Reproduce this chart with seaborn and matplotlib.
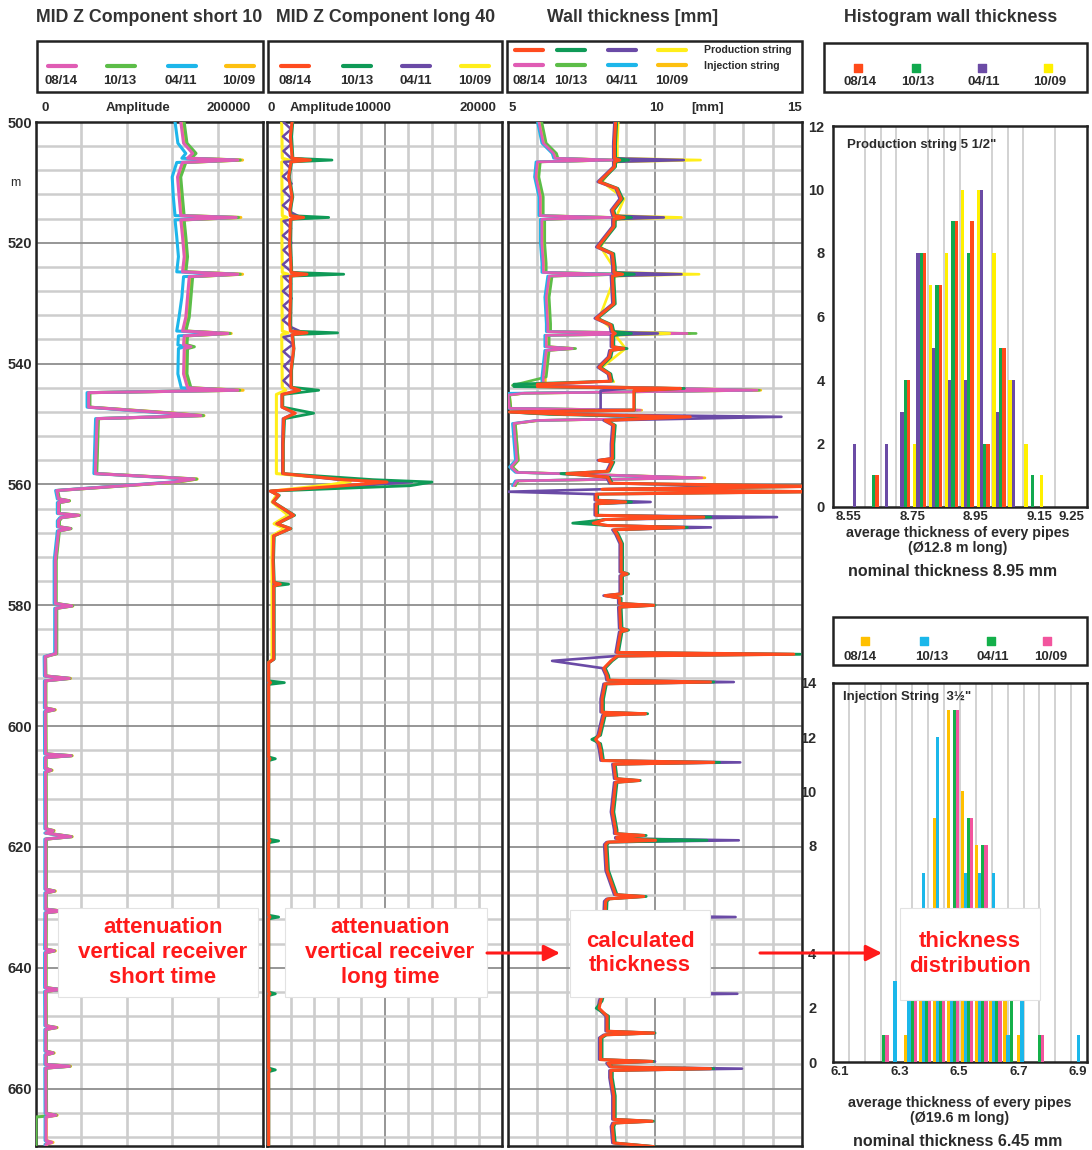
import numpy as np
import pandas as pd
import matplotlib
matplotlib.use("Agg")
import matplotlib.pyplot as plt
import seaborn as sns
from matplotlib.patches import Rectangle

sns.set_style("white")
plt.rcParams["font.family"] = ["Liberation Sans", "DejaVu Sans"]

# ------------------------------------------------------------------ DATA
dates = ["08/14", "10/13", "04/11", "10/09"]

# Track 1 : MID Z Component short 10 (amplitude, thousands)
t1_depth = [500.0, 503.5, 505.2, 506.0, 506.3, 506.7, 509.1, 512.4, 515.5, 515.8,
            516.2, 519.0, 522.3, 524.8, 525.2, 525.6, 529.0, 532.3, 534.6, 535.0,
            535.4, 536.9, 537.2, 537.5, 541.7, 544.0, 544.4, 544.8, 547.2, 548.0,
            548.6, 549.1, 558.2, 559.1, 559.6,
            561.0, 562.4, 562.7, 563.0, 564.8, 565.1, 565.5, 566.0, 567.0, 567.3,
            567.7, 572.6, 579.7, 580.1, 580.5, 588.0,
            588.5, 591.7, 592.1, 592.5, 597.0, 597.3, 597.6, 604.6, 604.9, 605.2,
            607.0, 607.3, 607.6, 617.0, 617.3, 617.7, 618.3, 618.7, 627.0, 627.3,
            627.6, 630.3, 630.6, 630.9, 636.9, 637.2, 637.5, 643.3, 643.6, 643.9,
            649.6, 649.9, 650.2, 653.8, 654.1, 654.4, 656.0, 656.3, 656.6, 664.1,
            664.4, 664.7, 668.6, 668.9, 669.2, 670.0]
t1_0814 = [127.6, 130.0, 138.0, 133.5, 177.8, 129.0, 124.7, 126.1, 127.6, 176.4,
           127.6, 129.1, 130.6, 129.1, 177.8, 135.0, 133.5, 132.0, 129.1, 169.0,
           130.6, 130.0, 136.5, 130.6, 130.0, 133.5, 177.8, 46.4, 46.4, 104.0,
           145.3, 53.8, 52.3, 139.4, 121.7,
           18.3, 19.8, 28.7, 19.8, 19.8, 37.5, 22.0, 19.8, 19.8, 30.1,
           19.8, 17.0, 17.0, 31.6, 17.5, 17.5,
           8.0, 8.2, 29.4, 8.2, 8.2, 16.0, 8.2, 8.4, 30.9, 8.4,
           8.4, 13.2, 8.4, 8.6, 15.0, 8.6, 30.9, 8.6, 8.6, 16.0,
           8.6, 8.6, 22.0, 8.6, 8.4, 16.0, 8.4, 8.4, 21.5, 8.4,
           8.6, 17.6, 8.6, 8.6, 15.0, 8.6, 8.6, 29.4, 8.6, 8.8,
           17.6, 8.8, 8.8, 14.0, 8.8, 8.8]
t1_1013 = [130.5, 133.0, 141.0, 136.5, 180.0, 132.0, 127.5, 129.0, 130.5, 178.5,
           130.5, 132.0, 133.5, 132.0, 180.0, 138.0, 136.5, 135.0, 132.0, 171.0,
           133.5, 133.0, 139.5, 133.5, 133.0, 136.5, 179.5, 47.5, 47.5, 106.0,
           147.5, 55.0, 53.5, 141.5, 124.0,
           19.1, 20.6, 29.5, 20.6, 20.6, 38.3, 22.8, 20.6, 20.6, 30.9,
           20.6, 17.8, 17.8, 32.4, 18.3, 18.3,
           8.5, 8.7, 30.0, 8.7, 8.7, 16.5, 8.7, 8.9, 31.5, 8.9,
           8.9, 13.7, 8.9, 9.1, 15.5, 9.1, 31.5, 9.1, 9.1, 16.5,
           9.1, 9.1, 22.5, 9.1, 8.9, 16.5, 8.9, 8.9, 22.0, 8.9,
           9.1, 18.1, 9.1, 9.1, 15.5, 9.1, 9.1, 30.0, 9.1, 9.3,
           18.1, 0.0, 0.0, 0.0, 0.0, 0.0]
t1_0411 = [122.5, 125.0, 132.0, 128.5, 175.0, 124.0, 120.0, 121.0, 122.5, 174.0,
           122.5, 124.0, 125.5, 124.0, 175.0, 130.0, 128.5, 126.0, 124.0, 166.0,
           125.5, 125.0, 131.0, 125.5, 125.0, 128.0, 175.0, 45.0, 45.0, 101.0,
           143.0, 52.5, 51.0, 137.0, 119.0,
           17.3, 18.8, 27.5, 18.8, 18.8, 36.0, 21.0, 18.8, 18.8, 29.0,
           18.8, 16.0, 16.0, 30.5, 16.5, 16.5,
           7.2, 7.4, 28.5, 7.4, 7.4, 15.0, 7.4, 7.6, 30.0, 7.6,
           7.6, 12.5, 7.6, 7.8, 14.2, 7.8, 30.0, 7.8, 7.8, 15.2,
           7.8, 7.8, 21.0, 7.8, 7.6, 15.2, 7.6, 7.6, 20.5, 7.6,
           7.8, 16.8, 7.8, 7.8, 14.2, 7.8, 7.8, 28.5, 7.8, 8.0,
           16.8, 8.0, 8.0, 13.2, 8.0, 8.0]
t1_1009 = [129.0, 131.5, 139.5, 135.0, 182.0, 130.5, 126.0, 127.5, 129.0, 180.5,
           129.0, 130.5, 132.0, 130.5, 182.0, 136.5, 135.0, 133.5, 130.5, 172.0,
           132.0, 131.5, 138.0, 132.0, 131.5, 135.0, 182.5, 47.0, 47.0, 108.0,
           148.0, 54.5, 53.0, 142.0, 125.0,
           18.6, 20.1, 29.5, 20.1, 20.1, 38.0, 22.3, 20.1, 20.1, 30.6,
           20.1, 17.3, 17.3, 32.4, 17.8, 17.8,
           8.3, 8.5, 30.4, 8.5, 8.5, 17.0, 8.5, 8.7, 31.9, 8.7,
           8.7, 14.2, 8.7, 8.9, 16.0, 8.9, 31.9, 8.9, 8.9, 17.0,
           8.9, 8.9, 23.0, 8.9, 8.7, 17.0, 8.7, 8.7, 22.5, 8.7,
           8.9, 18.6, 8.9, 8.9, 16.0, 8.9, 8.9, 30.4, 8.9, 9.1,
           18.6, 9.1, 9.1, 15.0, 9.1, 9.1]

# Track 2 : MID Z Component long 40 (amplitude)
t2_depth = [500.0, 502.4, 505.7, 506.0, 506.3, 506.6, 509.1, 512.4, 514.6, 515.5,
            515.8, 516.1, 520.1, 524.0, 524.9, 525.2, 525.5, 529.5, 533.4, 534.6,
            534.9, 535.2, 537.5, 541.1, 543.9, 544.4, 545.1, 547.2, 548.2, 549.1,
            553.3, 558.2, 559.2, 559.6, 560.2, 561.1, 561.8, 562.9, 565.1, 566.5,
            567.3, 568.5, 572.6, 576.2, 576.5, 576.8, 588.9, 589.5, 592.5, 592.8,
            593.1, 605.1, 605.4, 605.7, 618.7, 619.0, 619.3, 631.3, 631.6, 631.9,
            644.0, 644.3, 644.6, 656.6, 656.9, 657.2, 670.0]
t2_0814 = [2130, 1990, 2130, 2100, 3690, 2040, 1840, 2130, 1930, 1990,
           3120, 1990, 1930, 2040, 2040, 3400, 1990, 1990, 1930, 1990,
           3400, 2130, 2270, 2040, 2040, 2780, 1280, 1280, 2410, 1420,
           1360, 1360, 6530, 10210, 6530, 280, 990, 510, 2270, 850,
           1990, 570, 510, 570, 1130, 570, 570, 140, 140, 300,
           140, 140, 250, 140, 140, 250, 140, 140, 250, 140,
           140, 250, 140, 140, 250, 140, 140]
t2_1013 = [2200, 2100, 2200, 2150, 5530, 2100, 1900, 2200, 2000, 2050,
           5250, 2050, 2000, 2100, 2100, 6530, 2050, 2050, 2000, 2050,
           6010, 2200, 2300, 2100, 2100, 4400, 1350, 1350, 3970, 1500,
           1400, 1400, 9000, 14040, 12200, 300, 1050, 550, 2350, 900,
           2050, 620, 560, 620, 1840, 620, 620, 160, 160, 1480,
           160, 160, 710, 160, 160, 990, 160, 160, 990, 160,
           160, 710, 160, 160, 710, 160, 160]
t2_0411_depth = [500.0, 501.2, 502.4, 503.6, 504.8, 506.0, 506.3, 506.6, 507.8, 509.0,
                 510.2, 511.4, 512.6, 513.8, 515.0, 515.8, 516.4, 517.6, 518.8, 520.0,
                 521.2, 522.4, 523.6, 524.8, 525.2, 525.6, 526.8, 528.0, 529.2, 530.4,
                 531.6, 532.8, 534.0, 534.9, 535.6, 536.8, 538.0, 539.2, 540.4, 541.6,
                 542.8, 544.0, 544.4, 545.1, 547.2, 548.2, 549.1, 553.3, 558.2, 559.2,
                 559.6, 560.2, 561.1, 561.8, 562.9, 565.1, 566.5, 567.3, 568.5, 589.0,
                 589.5, 670.0]
t2_0411 = [1400, 2050, 1350, 2100, 1400, 2050, 4100, 1450, 2050, 1350,
           2100, 1400, 2050, 1350, 2100, 2900, 1400, 2050, 1350, 2100,
           1400, 2050, 1350, 2100, 3300, 1400, 2050, 1350, 2100, 1400,
           2050, 1350, 2100, 3100, 1400, 2200, 1400, 2100, 1450, 2050,
           1400, 2050, 2700, 1250, 1250, 2300, 1350, 1300, 1300, 6000,
           12340, 8000, 260, 950, 480, 2150, 820, 1900, 560, 560,
           130, 130]
t2_1009_depth = [500.0, 506.0, 506.3, 506.6, 515.5, 515.8, 516.1, 524.9, 525.2, 525.5,
                 534.6, 534.9, 535.2, 543.9, 544.4, 545.1, 558.2, 559.0, 559.5, 560.0,
                 561.1, 561.8, 562.9, 565.1, 566.5, 567.3, 568.5, 589.0, 589.5, 670.0]
t2_1009 = [1250, 1300, 1900, 1250, 1300, 1700, 1250, 1300, 1800, 1250,
           1300, 1800, 1250, 1300, 1600, 800, 800, 5500, 7100, 5500,
           420, 800, 430, 1800, 600, 1500, 430, 430, 120, 120]

# Track 3 : wall thickness [mm], production string
prod_depth = [500.0, 503.5, 506.0, 506.3, 506.6, 507.4, 509.9, 511.0, 512.7, 514.6,
              515.5, 515.8, 516.1, 517.3, 520.7, 521.8, 524.0, 524.9, 525.2, 525.5,
              530.1, 532.5, 533.6, 534.7, 535.0, 535.3, 537.2, 537.5, 537.8, 538.9,
              540.6, 541.7, 542.9, 543.4, 543.8, 544.1, 544.5, 547.7, 548.0, 548.4,
              548.8, 549.4, 550.2, 553.3, 555.7, 556.0, 556.3, 557.8, 558.2, 558.8,
              559.8, 560.3, 560.8, 561.2, 561.6, 562.6, 562.9, 563.2, 565.1, 565.4,
              565.8, 566.4, 566.8, 567.1, 567.5, 568.2, 569.8, 574.5, 574.8, 575.1,
              578.1, 578.4, 578.8, 579.7, 580.0, 580.3, 583.8, 584.1, 584.4, 587.8,
              588.1, 588.4, 589.2, 590.4, 591.6, 592.4, 592.7, 593.0, 595.5, 597.7,
              597.95, 598.2, 601.5, 602.2, 602.9, 604.0, 605.7, 606.0, 606.3, 608.7,
              609.0, 609.3, 614.2, 617.2, 617.8, 618.1, 618.4, 618.6, 618.9, 619.2,
              619.6, 623.9, 627.9, 628.2, 628.6, 629.0, 631.3, 631.6, 631.9, 644.0,
              644.3, 644.6, 645.5, 646.7, 648.0, 650.5, 650.8, 651.1, 651.6, 654.0,
              655.2, 655.5, 655.8, 656.4, 656.7, 657.0, 658.2, 661.2, 664.2, 665.1,
              665.4, 665.7, 666.3, 669.0, 669.6, 670.0]
prod_0814 = [8.66, 8.62, 8.62, 8.80, 8.62, 8.62, 8.10, 8.70, 8.85, 8.55,
             8.60, 8.95, 8.60, 8.60, 8.05, 8.55, 8.60, 8.60, 8.90, 8.55,
             8.60, 8.00, 8.50, 8.55, 8.65, 8.55, 8.55, 8.94, 8.50, 8.45,
             8.10, 8.45, 8.50, 6.00, 6.00, 10.87, 9.28, 9.28, 5.05, 7.00,
             11.20, 8.30, 8.60, 8.55, 8.55, 8.10, 8.55, 8.40, 7.00, 8.40,
             8.50, 15.60, 8.20, 15.60, 8.00, 8.00, 9.00, 8.00, 8.00, 11.66,
             8.30, 7.90, 8.40, 10.98, 8.60, 8.70, 8.85, 8.85, 9.05, 8.85,
             8.85, 8.30, 8.80, 8.80, 9.96, 8.80, 8.83, 9.05, 8.83, 8.71,
             14.72, 8.71, 8.50, 8.26, 8.37, 8.40, 11.89, 8.30, 8.20, 8.20,
             9.68, 8.26, 8.10, 7.98, 8.10, 8.15, 8.20, 12.00, 8.60, 8.66,
             9.45, 8.66, 8.55, 8.66, 8.66, 9.62, 8.70, 8.70, 10.02, 8.40,
             8.32, 8.37, 8.66, 9.62, 8.40, 8.32, 8.30, 9.80, 8.30, 8.20,
             9.90, 8.20, 8.15, 8.10, 8.37, 8.37, 9.96, 8.30, 8.15, 8.15,
             8.15, 9.90, 8.40, 8.50, 11.89, 8.50, 8.50, 8.60, 8.60, 8.60,
             9.90, 8.60, 8.55, 8.60, 9.96, 9.96]
prod_1013 = [8.70, 8.66, 8.66, 9.10, 8.66, 8.66, 8.15, 8.74, 8.90, 8.60,
             8.65, 9.20, 8.65, 8.65, 8.10, 8.60, 8.65, 8.65, 9.30, 8.60,
             8.65, 8.05, 8.55, 8.60, 9.20, 8.60, 8.60, 9.05, 8.55, 8.50,
             8.15, 8.50, 8.55, 5.20, 5.20, 11.00, 9.30, 9.30, 5.05, 6.40,
             10.40, 8.35, 8.65, 8.60, 8.60, 8.15, 8.60, 8.45, 6.80, 8.45,
             8.55, 15.60, 8.25, 15.60, 8.05, 8.05, 9.20, 8.05, 8.05, 11.90,
             8.35, 7.20, 8.45, 11.10, 8.65, 8.75, 8.90, 8.90, 9.10, 8.90,
             8.90, 8.35, 8.85, 8.85, 10.00, 8.85, 8.88, 9.10, 8.88, 8.76,
             14.94, 8.76, 8.55, 8.31, 8.42, 8.45, 12.00, 8.35, 8.25, 8.25,
             9.75, 8.31, 8.15, 7.85, 8.15, 8.20, 8.25, 12.20, 8.65, 8.71,
             9.50, 8.71, 8.60, 8.71, 8.71, 9.70, 8.75, 8.75, 11.77, 8.45,
             8.37, 8.42, 8.71, 9.70, 8.45, 8.37, 8.35, 10.20, 8.35, 8.25,
             10.30, 8.25, 8.20, 8.00, 8.42, 8.42, 10.00, 8.35, 8.20, 8.20,
             8.20, 9.95, 8.45, 8.55, 12.00, 8.55, 8.55, 8.65, 8.65, 8.65,
             9.95, 8.65, 8.60, 8.65, 10.00, 10.00]
prod_0411 = [8.62, 8.58, 8.58, 10.98, 8.58, 8.58, 8.05, 8.66, 8.80, 8.50,
             8.55, 10.30, 8.55, 8.55, 8.00, 8.50, 8.55, 8.55, 10.90, 8.50,
             8.55, 7.95, 8.45, 8.50, 10.10, 8.50, 8.50, 8.90, 8.45, 8.40,
             8.05, 8.40, 8.45, 6.20, 6.20, 9.00, 8.15, 8.15, 5.10, 7.20,
             14.30, 8.25, 8.55, 8.50, 8.50, 8.05, 8.50, 8.35, 7.20, 8.35,
             8.45, 13.24, 8.15, 5.00, 7.95, 7.95, 9.85, 7.95, 7.95, 14.15,
             8.25, 7.80, 8.35, 11.90, 8.55, 8.65, 8.80, 8.80, 9.00, 8.80,
             8.80, 8.25, 8.75, 8.75, 9.96, 8.75, 8.78, 9.00, 8.78, 8.66,
             14.60, 8.66, 6.50, 8.21, 8.32, 8.35, 12.68, 8.25, 8.15, 8.15,
             9.70, 8.21, 8.05, 7.95, 8.05, 8.10, 8.15, 12.90, 8.55, 8.61,
             9.40, 8.61, 8.50, 8.61, 8.61, 9.60, 8.65, 8.65, 12.85, 8.35,
             8.27, 8.32, 8.61, 9.60, 8.35, 8.27, 8.25, 12.74, 8.25, 8.15,
             12.80, 8.15, 8.10, 8.05, 8.32, 8.32, 10.00, 8.25, 8.10, 8.10,
             8.10, 10.00, 8.35, 8.45, 12.96, 8.45, 8.45, 8.55, 8.55, 8.55,
             9.90, 8.55, 8.50, 8.55, 9.96, 9.96]
prod_1009_depth = [500.0, 503.5, 506.0, 506.3, 506.6, 509.9, 512.7, 515.5, 515.8, 516.1,
                   520.7, 524.9, 525.2, 525.5, 532.5, 534.7, 535.0, 535.3, 537.5, 540.6,
                   543.0]
prod_1009 = [8.75, 8.72, 8.72, 11.55, 8.72, 8.20, 8.95, 8.70, 10.90, 8.70,
             8.15, 8.70, 11.50, 8.65, 8.10, 8.65, 10.50, 8.65, 9.00, 8.20,
             8.60]

# Track 3 : wall thickness [mm], injection string
inj_depth = [500.0, 503.5, 505.2, 506.0, 506.3, 506.6, 509.1, 512.4, 515.5, 515.8,
             516.1, 520.1, 523.4, 524.9, 525.2, 525.5, 529.0, 533.4, 534.7, 535.0,
             535.3, 537.2, 537.5, 537.8, 542.2, 543.6, 544.4, 544.9, 545.2, 547.4,
             547.7, 548.1, 549.0, 549.4, 549.9, 556.0, 557.1, 558.0, 558.9, 559.4, 560.2]
inj_0814 = [6.05, 6.20, 6.55, 6.60, 8.55, 6.00, 5.95, 6.10, 6.10, 8.50,
            6.15, 6.15, 6.20, 6.20, 8.50, 6.40, 6.30, 6.35, 6.35, 11.09,
            6.30, 6.30, 7.19, 6.30, 6.20, 6.20, 13.47, 5.50, 5.00, 5.05,
            9.50, 5.40, 10.80, 6.00, 5.20, 5.30, 5.10, 5.30, 11.60, 5.30, 5.20]
inj_1013 = [6.15, 6.30, 6.65, 6.70, 8.60, 6.10, 6.05, 6.20, 6.20, 8.55,
            6.25, 6.25, 6.30, 6.30, 9.05, 6.50, 6.40, 6.45, 6.45, 11.40,
            6.40, 6.40, 7.30, 6.40, 6.30, 5.15, 13.55, 5.55, 5.05, 5.10,
            9.40, 5.45, 10.60, 6.05, 5.25, 5.35, 5.15, 5.35, 11.50, 5.35, 5.25]
inj_0411 = [6.00, 6.15, 6.50, 6.55, 8.50, 5.95, 5.90, 6.05, 6.05, 8.45,
            6.10, 6.10, 6.15, 6.15, 8.90, 6.35, 6.25, 6.30, 6.30, 10.90,
            6.25, 6.25, 7.10, 6.25, 6.15, 6.15, 13.30, 5.02, 5.00, 5.00,
            9.30, 5.35, 10.50, 5.95, 5.15, 5.25, 5.05, 5.25, 11.40, 5.25, 5.15]
inj_1009 = [6.12, 6.27, 6.62, 6.67, 8.70, 6.07, 6.02, 6.17, 6.17, 8.65,
            6.22, 6.22, 6.27, 6.27, 9.00, 6.47, 6.37, 6.42, 6.42, 11.20,
            6.37, 6.37, 7.25, 6.37, 6.27, 6.27, 13.60, 5.55, 5.05, 5.10,
            9.55, 5.45, 10.90, 6.05, 5.25, 5.35, 5.15, 5.35, 11.70, 5.35, 5.25]

# Histogram: production string 5 1/2" (bins of 0.05 mm, left edges)
prod_bins = [8.50, 8.55, 8.60, 8.65, 8.70, 8.75, 8.80, 8.85, 8.90, 8.95,
             9.00, 9.05, 9.10, 9.15, 9.20, 9.25]
hist_prod_0814 = [0, 0, 1, 0, 4, 8, 7, 9, 9, 2, 5, 0, 0, 0, 0, 0]
hist_prod_1013 = [0, 0, 1, 0, 4, 8, 7, 9, 8, 2, 5, 0, 1, 0, 0, 0]
hist_prod_0411 = [0, 2, 0, 2, 3, 8, 5, 4, 4, 10, 3, 4, 0, 0, 0, 0]
hist_prod_1009 = [0, 0, 0, 0, 0, 2, 7, 8, 10, 10, 8, 4, 2, 1, 0, 0]
prod_ticks = [8.55, 8.75, 8.95, 9.15, 9.25]

# Histogram: injection string 3 1/2"
inj_bins = [6.221, 6.269, 6.316, 6.364, 6.411, 6.459, 6.506, 6.554, 6.601, 6.649,
            6.696, 6.744, 6.791, 6.839, 6.886]
hist_inj_0814 = [0, 0, 1, 5, 9, 13, 10, 8, 5, 3, 1, 0, 0, 0, 0]
hist_inj_1013 = [0, 3, 4, 7, 12, 5, 7, 7, 7, 1, 3, 0, 0, 0, 1]
hist_inj_0411 = [1, 0, 3, 4, 5, 13, 9, 8, 4, 3, 0, 1, 0, 0, 0]
hist_inj_1009 = [1, 0, 3, 4, 5, 13, 9, 8, 4, 0, 0, 1, 0, 0, 0]
inj_ticks = [6.1, 6.3, 6.5, 6.7, 6.9]

# ------------------------------------------------------------------ STYLE
PINK, LGREEN, CYAN, GOLD = "#E05CB4", "#5CBD48", "#1DB6EA", "#FDC010"
RED, DGREEN, PURPLE, YELLOW = "#FF4B1F", "#0F9A57", "#6A4AA6", "#FFEE1A"
H1 = {"08/14": "#FF4A1A", "10/13": "#11A94E", "04/11": "#6B4BA5", "10/09": "#FFF000"}
H2 = {"08/14": "#FFC000", "10/13": "#1BB7EA", "04/11": "#14B04A", "10/09": "#F2559E"}
TXT = "#2b2b2b"
ANN = "#FF1A1A"

W, H = 1092, 1150
fig = plt.figure(figsize=(W / 100, H / 100), dpi=100)


def axes_px(x0, y0, x1, y1, **kw):
    return fig.add_axes([x0 / W, 1 - y1 / H, (x1 - x0) / W, (y1 - y0) / H], **kw)


def trace(ax, vals, depth, color, lw=2.0, z=3, scale=1.0):
    df = pd.DataFrame({"v": np.asarray(vals, float) * scale, "d": depth})
    sns.lineplot(data=df, x="v", y="d", ax=ax, color=color, linewidth=lw,
                 sort=False, estimator=None, orient="y", zorder=z, legend=False)


def style_track(ax, xlim, xmaj, xmin=None, dark_major=False):
    ax.set_xlim(*xlim)
    ax.set_ylim(669.5, 500)
    ax.set_yticks(list(range(500, 661, 20)))
    ax.set_yticks([d for d in range(504, 670, 4) if d % 20], minor=True)
    ax.set_xticks(xmaj)
    if xmin is not None:
        ax.set_xticks(xmin, minor=True)
    ax.grid(which="major", axis="y", color="#8e8e8e", lw=1.3)
    ax.grid(which="minor", axis="y", color="#cdcdcd", lw=1.8)
    ax.grid(which="major", axis="x", color="#8e8e8e" if dark_major else "#cdcdcd",
            lw=1.3 if dark_major else 1.9)
    if xmin is not None:
        ax.grid(which="minor", axis="x", color="#cdcdcd", lw=1.9)
    ax.set_axisbelow(True)
    ax.tick_params(which="both", length=0)
    ax.set_xticklabels([])
    ax.set_xlabel("")
    ax.set_ylabel("")
    for s in ax.spines.values():
        s.set_linewidth(1.8)
        s.set_color("#222222")


# ---- Track 1
ax1 = axes_px(36, 122, 263, 1146)
for vals, col in [(t1_1009, GOLD), (t1_1013, LGREEN), (t1_0411, CYAN), (t1_0814, PINK)]:
    trace(ax1, vals, t1_depth, col, lw=2.2, scale=1000)
style_track(ax1, (0, 200000), list(range(0, 200001, 40000)))
ax1.set_yticklabels([str(d) for d in range(500, 661, 20)], fontweight="bold",
                    fontsize=10.5, color=TXT)
ax1.tick_params(axis="y", pad=3)

# ---- Track 2
ax2 = axes_px(267, 122, 502, 1146)
trace(ax2, t2_1009, t2_1009_depth, YELLOW, lw=2.2)
trace(ax2, t2_0411, t2_0411_depth, PURPLE, lw=1.8)
trace(ax2, t2_1013, t2_depth, DGREEN, lw=2.0)
trace(ax2, t2_0814, t2_depth, RED, lw=2.2)
style_track(ax2, (0, 20000), [10000], list(range(0, 20001, 2000)), dark_major=True)
ax2.set_yticklabels([])

# ---- Track 3
ax3 = axes_px(508, 122, 802, 1146)
for vals, col in [(inj_1009, GOLD), (inj_1013, LGREEN), (inj_0411, CYAN), (inj_0814, PINK)]:
    trace(ax3, vals, inj_depth, col, lw=1.9, z=3)
trace(ax3, prod_1009, prod_1009_depth, YELLOW, lw=1.9, z=4)
trace(ax3, prod_0411, prod_depth, PURPLE, lw=1.9, z=4)
trace(ax3, prod_1013, prod_depth, DGREEN, lw=2.0, z=4)
trace(ax3, prod_0814, prod_depth, RED, lw=2.2, z=5)
style_track(ax3, (5, 15), [10], list(range(5, 16)), dark_major=True)
ax3.set_yticklabels([])

# ---- Histograms
OFF = [0.0, 0.0103, 0.0206, 0.0309]
BW = 0.0108


def style_hist(ax, xlim, ylim, gridx, ticks, ylabels_at, ypad):
    ax.set_xlim(*xlim)
    ax.set_ylim(*ylim)
    ax.set_xticks(gridx, minor=True)
    ax.set_xticks(ticks)
    ax.set_xticklabels([f"{t:g}" for t in ticks], fontweight="bold",
                       fontsize=9.5, color=TXT)
    ax.set_yticks(ylabels_at)
    ax.set_yticklabels([str(v) for v in ylabels_at], fontweight="bold",
                       fontsize=10.5, color=TXT)
    ax.grid(which="minor", axis="x", color="#d2d2d2", lw=1.4)
    ax.grid(which="major", axis="x", visible=False)
    ax.grid(which="both", axis="y", visible=False)
    ax.set_axisbelow(True)
    ax.tick_params(which="both", length=0)
    ax.tick_params(axis="x", pad=3)
    ax.tick_params(axis="y", pad=ypad)
    for s in ax.spines.values():
        s.set_linewidth(1.8)
        s.set_color("#222222")


hx1 = axes_px(833, 126, 1087, 507)
series1 = [(hist_prod_1009, H1["10/09"]), (hist_prod_0411, H1["04/11"]),
           (hist_prod_1013, H1["10/13"]), (hist_prod_0814, H1["08/14"])]
for i, (cnt, col) in enumerate(series1):
    hx1.bar(np.asarray(prod_bins) + 0.002 + OFF[i], cnt, width=BW, align="edge",
            color=col, linewidth=0, zorder=3)
style_hist(hx1, (8.50, 9.30), (0, 12), prod_bins[1:], prod_ticks,
           list(range(0, 13, 2)), 6)

hx2 = axes_px(833, 683, 1087, 1062)
series2 = [(hist_inj_0814, H2["08/14"]), (hist_inj_1013, H2["10/13"]),
           (hist_inj_0411, H2["04/11"]), (hist_inj_1009, H2["10/09"])]
for i, (cnt, col) in enumerate(series2):
    hx2.bar(np.asarray(inj_bins) + OFF[i], cnt, width=BW, align="edge",
            color=col, linewidth=0, zorder=3)
lo2, hi2 = 6.076, 6.930
style_hist(hx2, (lo2, hi2), (0, 14), list(np.linspace(lo2, hi2, 17)[1:-1]),
           inj_ticks, [0, 2, 4, 8, 10, 12, 14], 12)

# ------------------------------------------------------------------ OVERLAY
ov = fig.add_axes([0, 0, 1, 1], zorder=20)
ov.set_xlim(0, W)
ov.set_ylim(H, 0)
ov.axis("off")
ov.patch.set_alpha(0)


def T(x, y, s, size=10, weight="bold", ha="center", color=TXT, **kw):
    ov.text(x, y, s, fontsize=size, fontweight=weight, ha=ha, va="center",
            color=color, **kw)


def box(x0, y0, x1, y1, ec="#222222", lw=1.8):
    ov.add_patch(Rectangle((x0, y0), x1 - x0, y1 - y0, fill=False,
                           edgecolor=ec, lw=lw, zorder=1))


# titles
T(149, 18, "MID Z Component short 10", size=12.8, color="#333333")
T(386, 18, "MID Z Component long 40", size=12.8, color="#333333")
T(633, 18, "Wall thickness [mm]", size=12.8, color="#333333")
T(951, 18, "Histogram wall thickness", size=12.8, color="#333333")

# legend boxes for tracks
box(37, 41, 263, 92)
for cx, col, lab in zip([62, 121, 182, 240], [PINK, LGREEN, CYAN, GOLD], dates):
    ov.plot([cx - 14, cx + 14], [66, 66], color=col, lw=3, solid_capstyle="round")
    T(cx - 1, 81, lab, size=9.5)
box(268, 41, 502, 92)
for cx, col, lab in zip([295, 357, 416, 475], [RED, DGREEN, PURPLE, YELLOW], dates):
    ov.plot([cx - 14, cx + 14], [66, 66], color=col, lw=3, solid_capstyle="round")
    T(cx, 81, lab, size=9.5)
box(507, 41, 802, 92)
for cx, c1, c2, lab in zip([529, 571, 622, 672], [RED, DGREEN, PURPLE, YELLOW],
                           [PINK, LGREEN, CYAN, GOLD], dates):
    ov.plot([cx - 14, cx + 14], [50, 50], color=c1, lw=3, solid_capstyle="round")
    ov.plot([cx - 14, cx + 14], [65, 65], color=c2, lw=3, solid_capstyle="round")
    T(cx, 81, lab, size=9.5)
T(704, 50, "Production string", size=7.6, ha="left")
T(704, 66, "Injection string", size=7.6, ha="left")

# histogram legends
box(824, 43, 1087, 92)
for cx, lab in zip([858, 916, 982, 1048], dates):
    ov.scatter([cx], [68], marker="s", s=38, color=H1[lab], zorder=3)
    T(cx + 2, 82, lab, size=9.5)
box(833, 617, 1087, 665)
for cx, tx, lab in zip([865, 924, 991, 1047], [860, 932, 993, 1051], dates):
    ov.scatter([cx], [641], marker="s", s=38, color=H2[lab], zorder=3)
    T(tx, 657, lab, size=9.5)

# track header scales
T(45, 108, "0", size=9.5)
T(138, 108, "Amplitude", size=9.5)
T(229, 108, "200000", size=9.5)
T(271, 108, "0", size=9.5)
T(322, 108, "Amplitude", size=9.5)
T(373, 108, "10000", size=9.5)
T(478, 108, "20000", size=9.5)
T(512, 108, "5", size=9.5)
T(656, 108, "10", size=9.5)
T(708, 108, "[mm]", size=9.5)
T(794, 108, "15", size=9.5)
T(15, 183, "m", size=9, weight="normal")

# histogram captions
T(847, 145, "Production string 5 1/2\"", size=9.5, ha="left")
T(843, 697, "Injection String  3\u00bd\"", size=9.5, ha="left")
T(958, 533, "average thickness of every pipes", size=10.3)
T(958, 548, "(\u00d812.8 m long)", size=10.3)
T(953, 571, "nominal thickness 8.95 mm", size=11.5)
T(960, 1103, "average thickness of every pipes", size=10.3)
T(960, 1118, "(\u00d819.6 m long)", size=10.3)
T(958, 1142, "nominal thickness 6.45 mm", size=11.5)

# annotation boxes
for (x0, y0, x1, y1), txt, cx in [((58, 908, 258, 997), "attenuation\nvertical receiver\nshort time", 163),
                                  ((285, 908, 487, 997), "attenuation\nvertical receiver\nlong time", 390),
                                  ((570, 910, 710, 997), "calculated\nthickness", 640),
                                  ((900, 908, 1040, 1000), "thickness\ndistribution", 970)]:
    ov.add_patch(Rectangle((x0, y0), x1 - x0, y1 - y0, facecolor="white",
                           edgecolor="#e2e2e2", lw=0.8, zorder=5))
    ov.text(cx, (y0 + y1) / 2, txt, fontsize=16, fontweight="bold", color=ANN,
            ha="center", va="center", linespacing=1.22, zorder=6)

for xa, xb in [(487, 560), (760, 882)]:
    ov.annotate("", xy=(xb, 953), xytext=(xa, 953),
                arrowprops=dict(arrowstyle="-|>", color=ANN, lw=2.2,
                                mutation_scale=24, shrinkA=0, shrinkB=0), zorder=7)

fig.savefig("out.png", dpi=100, facecolor="white")
